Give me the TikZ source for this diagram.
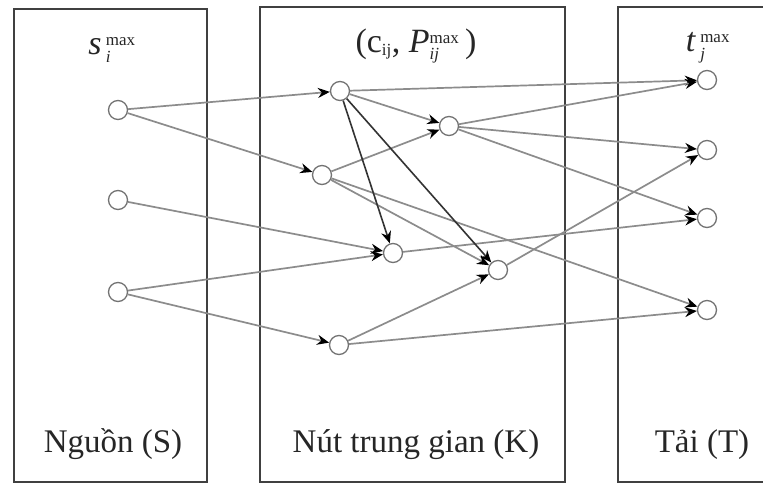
\documentclass[tikz,border=0pt]{standalone}
\usepackage{amsmath,amssymb}
\usepackage{fontspec}
\setmainfont{Liberation Serif}
\usetikzlibrary{arrows.meta}

\tikzset{
  nut/.style={circle,draw=black!55,line width=1.3pt,fill=white,minimum size=19pt,inner sep=0pt},
  vung/.style={draw=black!75,line width=1.8pt},
  lienket/.style={->,draw=black!45,line width=1.7pt},
  lienketdam/.style={->,draw=black!80,line width=1.6pt},
  nhan/.style={font=\fontsize{33}{36}\selectfont,anchor=base,text=black!85},
  chiso/.style={font=\fontsize{34}{36}\selectfont,text=black!85}
}
\newcommand{\chinho}[1]{\text{\fontsize{17}{18}\selectfont\upshape #1}}

\begin{document}
\begin{tikzpicture}[x=1pt,y=-1pt,>={Stealth[length=12pt,width=10pt,color=black]}]
  \useasboundingbox (0,0) rectangle (763,485);
  \fill[white] (0,0) rectangle (763,485);
  \draw[vung] (14,9) rectangle (207,482);
  \draw[vung] (260,7) rectangle (565,482);
  \draw[vung] (618,7) rectangle (790,482);
  \node[chiso] (ls) at (112,50) {\textit{s}$_{\,\chinho{\itshape i}}^{\,\chinho{max}}$};
  \node[chiso] (lk) at (416,46) {(c$_{\chinho{ij}}$,\ \textit{P}$_{\chinho{\itshape ij}}^{\chinho{max}}$\,)};
  \node[chiso] (lt) at (708,48) {\textit{t}$_{\,\chinho{\itshape j}}^{\,\chinho{max}}$};
  \node[nhan] (ns) at (113,452) {Nguồn (S)};
  \node[nhan] (nk) at (416,452) {Nút trung gian (K)};
  \node[nhan] (nt) at (702,452) {Tải (T)};
  \node[nut] (s1) at (118,110) {};
  \node[nut] (s2) at (118,200) {};
  \node[nut] (s3) at (118,292) {};
  \node[nut] (k1) at (340,91) {};
  \node[nut] (k2) at (322,175) {};
  \node[nut] (k3) at (449,126) {};
  \node[nut] (k4) at (393,253) {};
  \node[nut] (k5) at (498,270) {};
  \node[nut] (k6) at (339,345) {};
  \node[nut] (t1) at (707,80) {};
  \node[nut] (t2) at (707,150) {};
  \node[nut] (t3) at (707,218) {};
  \node[nut] (t4) at (707,310) {};
  \foreach \a/\b in {s1/k1,s1/k2,s2/k4,s3/k4,s3/k6,k1/t1,k1/k3,k2/k3,k2/k5,k2/t4,
                     k3/t1,k3/t2,k3/t3,k4/t3,k5/t2,k6/k5,k6/t4}
    \draw[lienket] (\a) -- (\b);
  \foreach \a/\b in {k1/k4,k1/k5}
    \draw[lienketdam] (\a) -- (\b);
\end{tikzpicture}
\end{document}
